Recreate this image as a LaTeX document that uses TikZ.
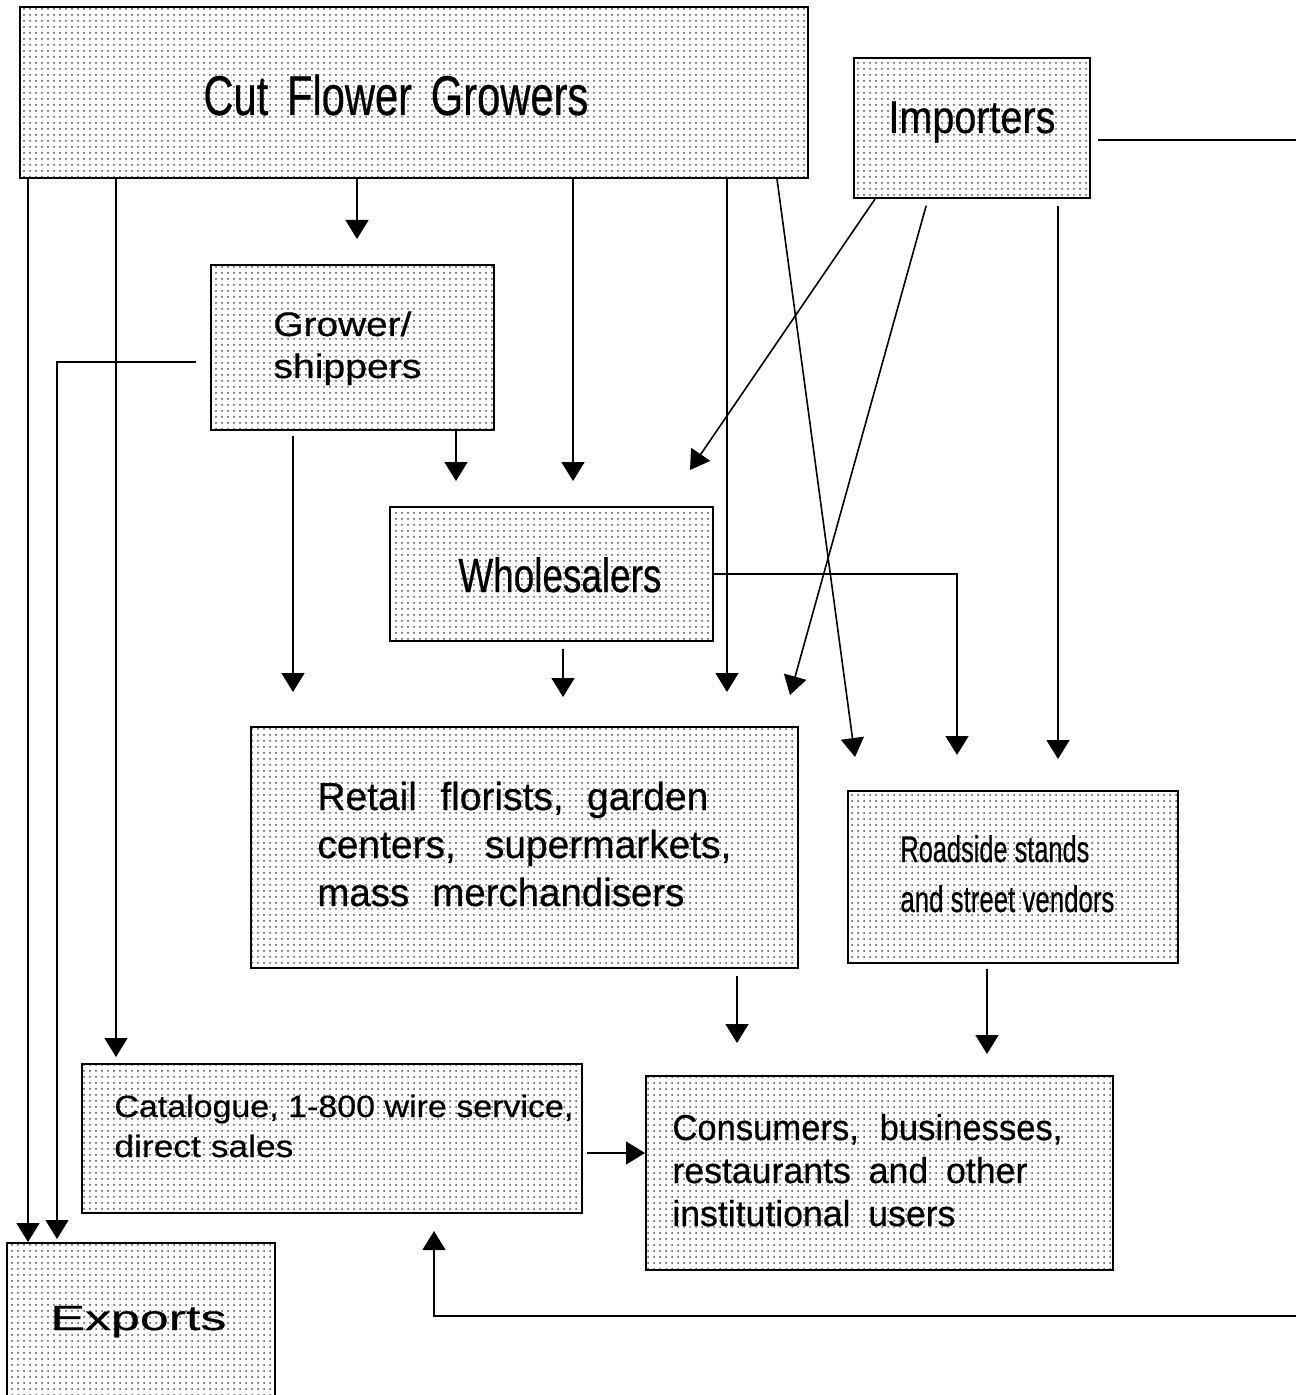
\documentclass[tikz,border=0pt]{standalone}
\usepackage{fontspec}
\setmainfont{Liberation Sans}[FakeBold=0.5]
\usetikzlibrary{arrows.meta,fit,patterns}
\newcommand{\wtxt}[4][0.28em]{{\fontsize{#2}{#2}\selectfont\spaceskip=#1\relax\resizebox{#3}{\height}{#4}}}
\begin{document}
\begin{tikzpicture}[x=0.5pt,y=-0.5pt,
  box/.style={draw,line width=1pt,pattern=dots,pattern color=black!70,inner sep=0pt},
  arr/.style={draw,line width=0.8pt,-{Triangle[width=11.5pt,length=9.5pt]}},
  ln/.style={draw,line width=0.8pt},
  lbl/.style={anchor=base west,inner sep=0pt}]
\useasboundingbox (0,0) rectangle (1296,1395);
\fill[white] (0,0) rectangle (1296,1395);
% boxes
\node[box,fit={(20,7)(808,178)}] (growers) {};
\node[box,fit={(854,58)(1090,198)}] (imp) {};
\node[box,fit={(211,265)(494,430)}] (gs) {};
\node[box,fit={(390,507)(713,641)}] (whole) {};
\node[box,fit={(251,727)(798,968)}] (retail) {};
\node[box,fit={(848,791)(1178,963)}] (road) {};
\node[box,fit={(82,1064)(582,1213)}] (cat) {};
\node[box,fit={(646,1076)(1113,1270)}] (cons) {};
\node[box,fit={(7,1243)(275,1410)}] (exports) {};
% labels
\node[lbl] (tgrow) at (203,115) {\wtxt[0.45em]{28pt}{192.5pt}{Cut Flower Growers}};
\node[lbl] (timp) at (888,133) {\wtxt{23pt}{83.5pt}{Importers}};
\node[lbl] (tgs1) at (273,336) {\wtxt{17pt}{69pt}{Grower/}};
\node[lbl] (tgs2) at (273,378) {\wtxt{17pt}{74pt}{shippers}};
\node[lbl] (twh) at (458,592) {\wtxt{24pt}{101.5pt}{Wholesalers}};
\node[lbl] (tr1) at (317,810) {\wtxt[0.6em]{19.5pt}{195.5pt}{Retail florists, garden}};
\node[lbl] (tr2) at (317,858) {\wtxt[0.75em]{19.5pt}{207pt}{centers, supermarkets,}};
\node[lbl] (tr3) at (317,906) {\wtxt[0.6em]{19.5pt}{183.5pt}{mass merchandisers}};
\node[lbl] (trs1) at (900,862) {\wtxt{18.5pt}{94.5pt}{Roadside stands}};
\node[lbl] (trs2) at (900,912) {\wtxt{18.5pt}{107pt}{and street vendors}};
\node[lbl] (tc1) at (114,1117) {\wtxt{15.4pt}{229.5pt}{Catalogue, 1-800 wire service,}};
\node[lbl] (tc2) at (114,1157) {\wtxt{15.4pt}{89.5pt}{direct sales}};
\node[lbl] (tco1) at (672,1140) {\wtxt[0.6em]{18pt}{195pt}{Consumers, businesses,}};
\node[lbl] (tco2) at (672,1183) {\wtxt[0.5em]{18pt}{177.5pt}{restaurants and other}};
\node[lbl] (tco3) at (672,1226) {\wtxt[0.5em]{18pt}{141.5pt}{institutional users}};
\node[lbl] (tex) at (50,1330) {\wtxt{17.5pt}{88pt}{Exports}};
% helper coordinates
\foreach \x in {28,57,116,293,357,434,456,563,573,727,737,777,875,928,957,987,1058}
  \coordinate (c\x) at (\x,0);
\coordinate (y140) at (0,140);
\coordinate (y362) at (0,362);
\coordinate (y1153) at (0,1153);
\coordinate (e140) at (1296,140);
\coordinate (r1316) at (1296,1316);
\coordinate (t6) at (855,757);
\coordinate (t7) at (690,470);
\coordinate (t8) at (790,695);
% connectors
\draw[arr] (c28 |- growers.south) -- (c28 |- exports.north);
\draw[arr,shorten >=3pt] (c116 |- growers.south) -- (c116 |- cat.north);
\draw[arr,shorten >=12.5pt] (c357 |- growers.south) -- (c357 |- gs.north);
\draw[arr,shorten >=12.5pt] (c573 |- growers.south) -- (c573 |- whole.north);
\draw[arr,shorten >=17pt] (c727 |- growers.south) -- (c727 |- retail.north);
\draw[arr] (c777 |- growers.south) -- (t6);
\draw[arr] (c875 |- imp.south) -- (t7);
\draw[arr,shorten <=3.5pt] (c928 |- imp.south) -- (t8);
\draw[arr,shorten <=3.5pt,shorten >=15.5pt] (c1058 |- imp.south) -- (c1058 |- road.north);
\draw[ln,shorten <=3.5pt] (imp.east |- y140) -- (e140);
\draw[arr,shorten >=1.5pt] ([xshift=-7pt]gs.west |- y362) -- (c57 |- y362) -- (c57 |- exports.north);
\draw[arr,shorten <=2.5pt,shorten >=17pt] (c293 |- gs.south) -- (c293 |- retail.north);
\draw[arr,shorten >=12.5pt] (c456 |- gs.south) -- (c456 |- whole.north);
\draw[arr,shorten >=17.5pt] (whole.east) -- (c957 |- whole.east) -- (c957 |- road.north);
\draw[arr,shorten <=3.5pt,shorten >=14.5pt] (c563 |- whole.south) -- (c563 |- retail.north);
\draw[arr,shorten <=3.5pt,shorten >=16pt] (c737 |- retail.south) -- (c737 |- cons.north);
\draw[arr,shorten <=2.5pt,shorten >=10.5pt] (c987 |- road.south) -- (c987 |- cons.north);
\draw[arr,shorten <=2pt] (cat.east |- y1153) -- (cons.west |- y1153);
\draw[arr,shorten >=8.5pt] (r1316) -- (c434 |- r1316) -- (c434 |- cat.south);
\end{tikzpicture}
\end{document}
